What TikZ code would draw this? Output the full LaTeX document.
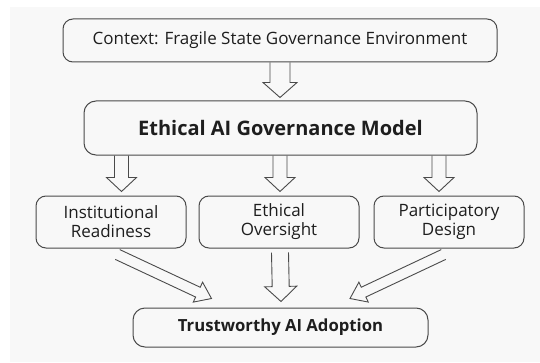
\documentclass[tikz,border=0pt]{standalone}
\usepackage{fontspec}
\setmainfont{Open Sans}
\usetikzlibrary{calc}

\definecolor{boxgray}{HTML}{4A4A4A}
\definecolor{textgray}{HTML}{1E1E1E}
\definecolor{bggray}{HTML}{F8F8F8}

\tikzset{
  box/.style={draw=boxgray, line width=1pt, rounded corners=10pt, align=center,
    text=textgray, inner sep=0pt},
  fatline/.style={draw=boxgray, line width=0.9pt, line join=miter},
}

%% hollow block arrow: #1 start, #2 tip, #3 shaft half width, #4 head half width, #5 head length
\newcommand{\blockarrow}[5]{%
  \coordinate (ba) at ($(#2)!#5!(#1)$);
  \draw[fatline] ($(#1)!#3!90:(#2)$) -- ($(ba)!#3!90:(#2)$) -- ($(ba)!#4!90:(#2)$) -- (#2)
    -- ($(ba)!#4!-90:(#2)$) -- ($(ba)!#3!-90:(#2)$) -- ($(#1)!#3!-90:(#2)$);
}

\begin{document}
\begin{tikzpicture}[x=1pt, y=1pt]
\useasboundingbox (0,0) rectangle (540,362);
\fill[bggray] (10,0) rectangle (540,355);

%% boxes
\node[box, minimum width=434pt, minimum height=43pt, font=\fontsize{17}{20}\selectfont]
  (ctx) at (280,321.5) {Context: Fragile State Governance Environment};
\node[box, rounded corners=12pt, minimum width=393pt, minimum height=54pt,
  font=\fontsize{20}{23}\selectfont\bfseries]
  (model) at (280.5,234) {Ethical AI Governance Model};

\foreach \name/\x/\w/\txt in {ready/111/150/{Institutional\\Readiness},
    oversight/279/160/{Ethical\\Oversight}, design/449/150/{Participatory\\Design}}
{
    \node[box, minimum width=\w pt, minimum height=52pt, font=\fontsize{17}{19}\selectfont]
      (\name) at (\x,140) {\txt};
}

\node[box, rounded corners=12pt, minimum width=295pt, minimum height=39pt,
  font=\fontsize{16.7}{19}\selectfont\bfseries]
  (adopt) at (280.5,34.5) {Trustworthy AI Adoption};

%% arrows
\coordinate (t-model) at ($(model.north)+(-0.5,3)$);
\blockarrow{ctx.south}{t-model}{10pt}{17pt}{15pt}

\foreach \name/\dx in {ready/10.5, oversight/1, design/-10}
{
    \coordinate (t-\name) at ($(\name.north)+(\dx,4)$);
    \coordinate (s-\name) at (t-\name |- model.south);
    \blockarrow{s-\name}{t-\name}{7pt}{15pt}{14pt}
}

\coordinate (s-mid) at ($(oversight.south)+(1,-4)$);
\coordinate (t-mid) at ($(adopt.north)+(0.5,6)$);
\blockarrow{s-mid}{t-mid}{8.5pt}{16pt}{15pt}

\coordinate (s-left) at ($(ready.south)+(6.5,-6)$);
\coordinate (t-left) at ($(adopt.north west)+(79,9)$);
\blockarrow{s-left}{t-left}{5.4pt}{11pt}{15pt}

\coordinate (s-right) at ($(design.south)+(-5.5,-6)$);
\coordinate (t-right) at ($(adopt.north east)+(-78.5,9)$);
\blockarrow{s-right}{t-right}{5.4pt}{11pt}{15pt}

\end{tikzpicture}
\end{document}
